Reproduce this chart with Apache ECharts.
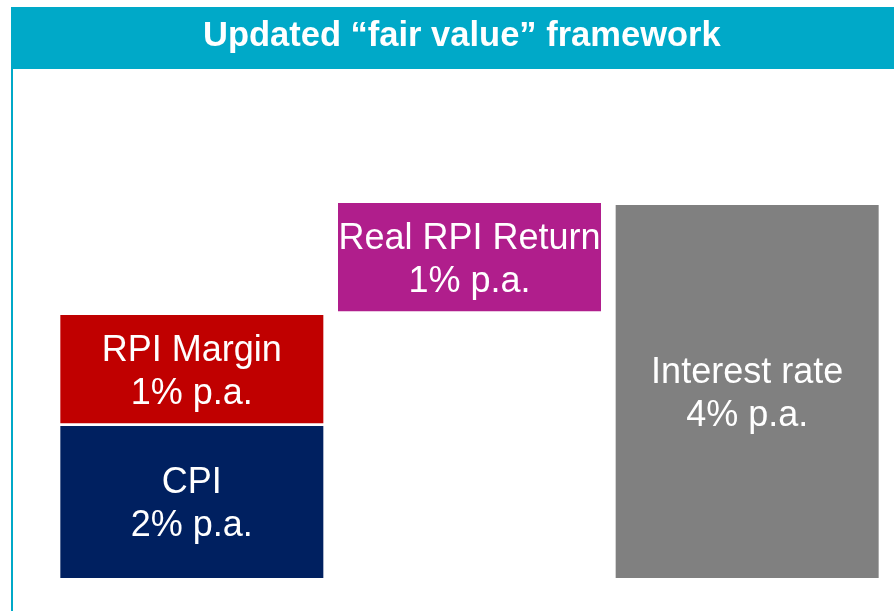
<!DOCTYPE html>
<html>
<head>
<meta charset="utf-8">
<title>Updated fair value framework</title>
<script src="https://cdn.jsdelivr.net/npm/echarts@6/dist/echarts.min.js"></script>
<style>
  html, body { margin: 0; padding: 0; background: #ffffff; }
  #main { width: 894px; height: 611px; }
</style>
</head>
<body>
<div id="main"></div>
<script>
// 三列: CPI + RPI Margin 叠放, Real RPI Return 悬空, Interest rate 整列
const categories = ['CPI / RPI Margin', 'Real RPI Return', 'Interest rate']
// 高度按图上量出来的 (4% 的柱子为基准)
const baseValues = [0, 2.86, 0]
const cpiValues = [1.63, '-', '-']
const gapValues = [0.03, '-', '-']
const marginValues = [1.16, '-', '-']
const realValues = ['-', 1.16, '-']
const rateValues = ['-', '-', 4.0]

const cpiLabel = 'CPI\n2% p.a.'
const marginLabel = 'RPI Margin\n1% p.a.'
const realLabel = 'Real RPI Return\n1% p.a.'
const rateLabel = 'Interest rate\n4% p.a.'

const teal = '#00A9C8'

function boxLabel(text) {
  return {
    show: true,
    position: 'inside',
    offset: [0, 3],
    formatter: text,
    color: '#ffffff',
    fontFamily: 'Liberation Sans, Arial, sans-serif',
    fontSize: 36,
    lineHeight: 43,
    align: 'center'
  }
}

function stackBar(name, data, color, text) {
  return {
    name: name,
    type: 'bar',
    stack: 'all',
    barWidth: 263,
    data: data,
    itemStyle: {color: color},
    label: text ? boxLabel(text) : {show: false},
    silent: !text
  }
}

let myChart = echarts.init(document.getElementById('main'), null, {renderer: 'canvas'})
let option = {
  animation: false,
  backgroundColor: '#ffffff',
  graphic: [
    // 标题条
    {type: 'rect', left: 11, top: 7, shape: {width: 883, height: 62}, style: {fill: teal}, z: 0},
    // 左边竖线
    {type: 'rect', left: 11, top: 69, shape: {width: 2, height: 542}, style: {fill: teal}, z: 0},
    {
      type: 'text',
      left: 203,
      top: 19,
      style: {
        text: 'Updated \u201cfair value\u201d framework',
        fill: '#ffffff',
        font: 'bold 34.5px "Liberation Sans", Arial, sans-serif'
      },
      z: 10
    }
  ],
  grid: {left: 53, right: 8, top: 200.3, bottom: 33},
  xAxis: {
    type: 'category',
    data: categories,
    show: false
  },
  yAxis: {
    type: 'value',
    min: 0,
    max: 4.05,
    show: false
  },
  series: [
    stackBar('base', baseValues, 'transparent'),
    stackBar('CPI', cpiValues, '#002060', cpiLabel),
    stackBar('gap', gapValues, 'transparent'),
    stackBar('RPI Margin', marginValues, '#C00000', marginLabel),
    stackBar('Real RPI Return', realValues, '#B01E8C', realLabel),
    stackBar('Interest rate', rateValues, '#808080', rateLabel)
  ]
}
myChart.setOption(option)
</script>
</body>
</html>
